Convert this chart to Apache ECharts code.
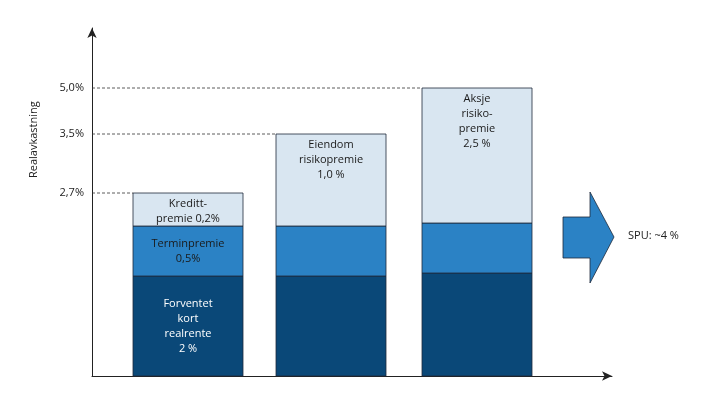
<!DOCTYPE html>
<html>
<head>
<meta charset="utf-8">
<script src="https://cdn.jsdelivr.net/npm/echarts@6/dist/echarts.min.js"></script>
<style>body{margin:0}#c{width:719px;height:408px}</style>
</head>
<body>
<div id="c"></div>
<script>
// schematic chart: heights are drawing units (not to scale)
var barX = [96, 239, 385];
var kortRente = [100, 100, 103];
var terminPremie = [50, 50, 50];
var risikoPremie = [33, 92, 135];
var levelLabels = ['2,7%', '3,5%', '5,0%'];
var topLabels = ['Kreditt-\npremie 0,2%', 'Eiendom\nrisikopremie\n1,0 %', 'Aksje\nrisiko-\npremie\n2,5 %'];
var termLabels = ['Terminpremie\n0,5%', '', ''];
var kortLabels = ['Forventet\nkort\nrealrente\n2 %', '', ''];

var font = '11px "Open Sans"';
var colors = ['#0a4878', '#2b82c5', '#d9e6f1'];
var textColors = ['#ffffff', '#1a1a1a', '#1a1a1a'];
var halfW = 55;

function renderItem(params, api) {
  var i = params.dataIndex;
  var segs = [kortRente[i], terminPremie[i], risikoPremie[i]];
  var labels = [kortLabels[i], termLabels[i], topLabels[i]];
  var x = api.value(0), base = 0, children = [];
  segs.forEach(function (h, k) {
    var p0 = api.coord([x - halfW, base + h]);
    var p1 = api.coord([x + halfW, base]);
    var w = p1[0] - p0[0], hh = p1[1] - p0[1];
    children.push({type: 'rect', shape: {x: p0[0], y: p0[1], width: w, height: hh},
      style: {fill: colors[k], stroke: '#1f2a3a', lineWidth: 0.8}});
    if (labels[k]) {
      var top = k === 2;
      children.push({type: 'text', x: p0[0] + w / 2, y: top ? p0[1] + 3 : p0[1] + hh / 2,
        style: {text: labels[k], fill: textColors[k], font: font, lineHeight: 15, align: 'center', verticalAlign: top ? 'top' : 'middle'}});
    }
    base += h;
  });
  // dashed level line from y axis to the bar's left edge
  var a = api.coord([0, base]), b = api.coord([x - halfW, base]);
  children.push({type: 'line', shape: {x1: a[0], y1: a[1], x2: b[0], y2: b[1]},
    style: {stroke: '#333', lineWidth: 0.8, lineDash: [3, 2]}});
  children.push({type: 'text', x: a[0] - 8, y: a[1],
    style: {text: levelLabels[i], fill: '#222', font: font, align: 'right', verticalAlign: 'middle'}});
  return {type: 'group', children: children};
}

var chart = echarts.init(document.getElementById('c'));
chart.setOption({
  animation: false,
  grid: {left: 92, top: 28, width: 520, bottom: 32},
  xAxis: {type: 'value', min: 0, max: 520, splitLine: {show: false}, axisTick: {show: false}, axisLabel: {show: false},
    axisLine: {lineStyle: {color: '#222', width: 1}, symbol: ['none', 'arrow'], symbolSize: [7, 10]}},
  yAxis: {type: 'value', min: 0, max: 348, splitLine: {show: false}, axisTick: {show: false}, axisLabel: {show: false},
    axisLine: {show: true, lineStyle: {color: '#222', width: 1}, symbol: ['none', 'arrow'], symbolSize: [7, 10]}},
  graphic: [
    {type: 'text', x: 28, y: 178, rotation: Math.PI / 2, style: {text: 'Realavkastning', fill: '#222', font: font}},
    {type: 'polygon', shape: {points: [[563, 217], [590, 217], [590, 192], [614, 237], [590, 283], [590, 258], [563, 258]]},
      style: {fill: '#2b82c5', stroke: '#1f2a3a', lineWidth: 0.8}},
    {type: 'text', x: 628, y: 230, style: {text: 'SPU: ~4 %', fill: '#222', font: font}}
  ],
  series: [{
    type: 'custom', renderItem: renderItem, clip: false,
    data: barX.map(function (x) { return [x]; })
  }]
});
</script>
</body>
</html>
